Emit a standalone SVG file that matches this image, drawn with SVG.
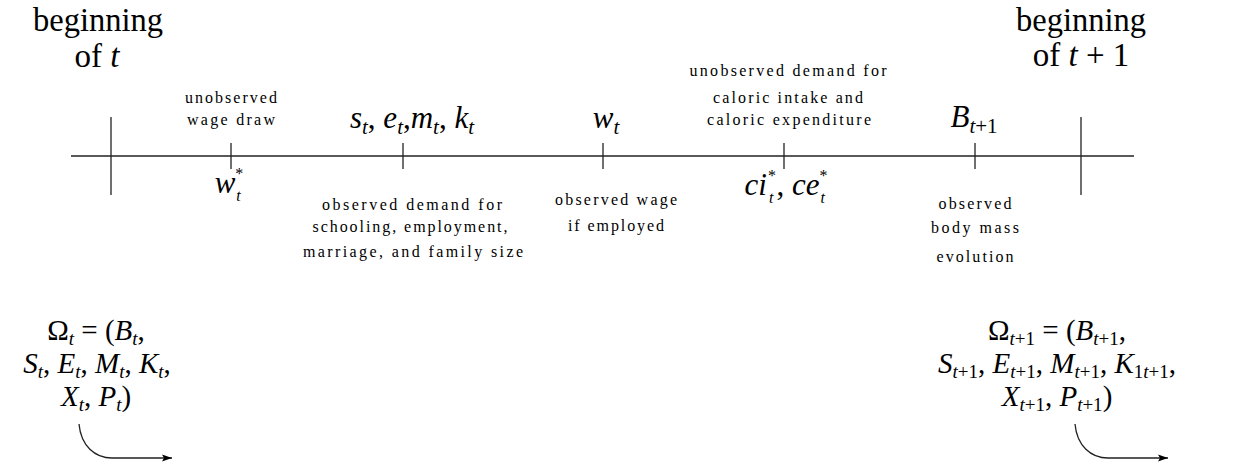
<svg xmlns="http://www.w3.org/2000/svg" width="1248" height="463" viewBox="0 0 1248 463">
<defs>
<style>
.lab{font-family:"Liberation Serif","DejaVu Serif",serif;font-size:16px;fill:#000;text-anchor:middle}
.big{font-family:"Liberation Serif","DejaVu Serif",serif;font-size:33px;fill:#000;text-anchor:middle}
.m{font-family:"Liberation Serif","DejaVu Serif",serif;font-size:31px;font-style:italic;fill:#000;text-anchor:middle}
.o{font-size:29px}
.r{font-style:normal}
.s{font-size:21px}
.so{font-size:19px}
.ss{font-size:16px}
.ln{stroke:#222;stroke-width:1.3;fill:none}
</style>
<marker id="ah" viewBox="0 0 10 10" refX="10" refY="5" markerWidth="10" markerHeight="10" markerUnits="userSpaceOnUse" orient="auto">
<path d="M0,1.5 L10,5 L0,8.5 L2,5 z" fill="#000"/>
</marker>
</defs>
<rect width="1248" height="463" fill="#fff"/>
<g id="connectors">
<line class="ln" x1="71" y1="156" x2="1134" y2="156"/>
<line class="ln" x1="111" y1="117" x2="111" y2="195"/>
<line class="ln" x1="1081" y1="117" x2="1081" y2="195"/>
<line class="ln" x1="231" y1="143" x2="231" y2="169"/>
<line class="ln" x1="403" y1="143" x2="403" y2="169"/>
<line class="ln" x1="603" y1="143" x2="603" y2="169"/>
<line class="ln" x1="784" y1="143" x2="784" y2="169"/>
<line class="ln" x1="975" y1="143" x2="975" y2="169"/>
<path class="ln" d="M79,424 C81,446 95,458 112,458 L172,458" marker-end="url(#ah)"/>
<path class="ln" d="M1075,424 C1077,446 1091,458 1108,458 L1168,458" marker-end="url(#ah)"/>
</g>
<g id="begin-t">
<text class="big" x="98" y="31" textLength="130" lengthAdjust="spacingAndGlyphs">beginning</text>
<text class="big" x="97" y="67">of <tspan font-style="italic">t</tspan></text>
</g>
<g id="begin-t1">
<text class="big" x="1081" y="31" textLength="130" lengthAdjust="spacingAndGlyphs">beginning</text>
<text class="big" x="1081" y="66">of <tspan font-style="italic">t</tspan> + 1</text>
</g>
<g id="wage-draw">
<text class="lab" x="231" y="103" textLength="92" lengthAdjust="spacing">unobserved</text>
<text class="lab" x="231" y="125" textLength="88" lengthAdjust="spacing">wage draw</text>
<text class="m" x="229" y="193">w<tspan class="ss r" dy="-14">*</tspan><tspan class="ss" dx="-7" dy="22">t</tspan></text>
</g>
<g id="demand">
<text class="m" x="412" y="128">s<tspan class="s" dy="6">t</tspan><tspan class="r" dy="-6">, </tspan>e<tspan class="s" dy="6">t</tspan><tspan class="r" dy="-6">,</tspan>m<tspan class="s" dy="6">t</tspan><tspan class="r" dy="-6">, </tspan>k<tspan class="s" dy="6">t</tspan></text>
<text class="lab" x="412" y="210" textLength="180" lengthAdjust="spacing">observed demand for</text>
<text class="lab" x="410" y="232" textLength="195" lengthAdjust="spacing">schooling, employment,</text>
<text class="lab" x="413" y="257" textLength="220" lengthAdjust="spacing">marriage, and family size</text>
</g>
<g id="wage">
<text class="m" x="606" y="128">w<tspan class="s" dy="6">t</tspan></text>
<text class="lab" x="616" y="205" textLength="122" lengthAdjust="spacing">observed wage</text>
<text class="lab" x="616" y="231" textLength="96" lengthAdjust="spacing">if employed</text>
</g>
<g id="caloric">
<text class="lab" x="788" y="76" textLength="197" lengthAdjust="spacing">unobserved demand for</text>
<text class="lab" x="788" y="103" textLength="150" lengthAdjust="spacing">caloric intake and</text>
<text class="lab" x="789" y="125" textLength="164" lengthAdjust="spacing">caloric expenditure</text>
<text class="m" x="786" y="195">ci<tspan class="ss r" dx="1" dy="-14">*</tspan><tspan class="ss" dx="-7" dy="22">t</tspan><tspan class="r" dx="3" dy="-8">, </tspan>ce<tspan class="ss r" dy="-14">*</tspan><tspan class="ss" dx="-7" dy="22">t</tspan></text>
</g>
<g id="bodymass">
<text class="m" x="974" y="127">B<tspan class="s" dy="6">t<tspan class="r">+1</tspan></tspan></text>
<text class="lab" x="975" y="209" textLength="73" lengthAdjust="spacing">observed</text>
<text class="lab" x="975" y="233" textLength="88" lengthAdjust="spacing">body mass</text>
<text class="lab" x="975" y="262" textLength="77" lengthAdjust="spacing">evolution</text>
</g>
<g id="omega-t">
<text class="m o" x="96" y="340"><tspan class="r">Ω</tspan><tspan class="so" dy="5">t</tspan><tspan class="r" dy="-5"> = (</tspan>B<tspan class="so" dy="5">t</tspan><tspan class="r" dy="-5">,</tspan></text>
<text class="m o" x="97" y="373">S<tspan class="so" dy="5">t</tspan><tspan class="r" dy="-5">, </tspan>E<tspan class="so" dy="5">t</tspan><tspan class="r" dy="-5">, </tspan>M<tspan class="so" dy="5">t</tspan><tspan class="r" dy="-5">, </tspan>K<tspan class="so" dy="5">t</tspan><tspan class="r" dy="-5">,</tspan></text>
<text class="m o" x="96" y="406">X<tspan class="so" dy="5">t</tspan><tspan class="r" dy="-5">, </tspan>P<tspan class="so" dy="5">t</tspan><tspan class="r" dy="-5">)</tspan></text>
</g>
<g id="omega-t1">
<text class="m o" x="1057" y="340"><tspan class="r">Ω</tspan><tspan class="so" dy="5">t<tspan class="r">+1</tspan></tspan><tspan class="r" dy="-5"> = (</tspan>B<tspan class="so" dy="5">t<tspan class="r">+1</tspan></tspan><tspan class="r" dy="-5">,</tspan></text>
<text class="m o" x="1057" y="373">S<tspan class="so" dy="5">t<tspan class="r">+1</tspan></tspan><tspan class="r" dy="-5">, </tspan>E<tspan class="so" dy="5">t<tspan class="r">+1</tspan></tspan><tspan class="r" dy="-5">, </tspan>M<tspan class="so" dy="5">t<tspan class="r">+1</tspan></tspan><tspan class="r" dy="-5">, </tspan>K<tspan class="so" dy="5"><tspan class="r">1</tspan>t<tspan class="r">+1</tspan></tspan><tspan class="r" dy="-5">,</tspan></text>
<text class="m o" x="1057" y="406">X<tspan class="so" dy="5">t<tspan class="r">+1</tspan></tspan><tspan class="r" dy="-5">, </tspan>P<tspan class="so" dy="5">t<tspan class="r">+1</tspan></tspan><tspan class="r" dy="-5">)</tspan></text>
</g>
</svg>
